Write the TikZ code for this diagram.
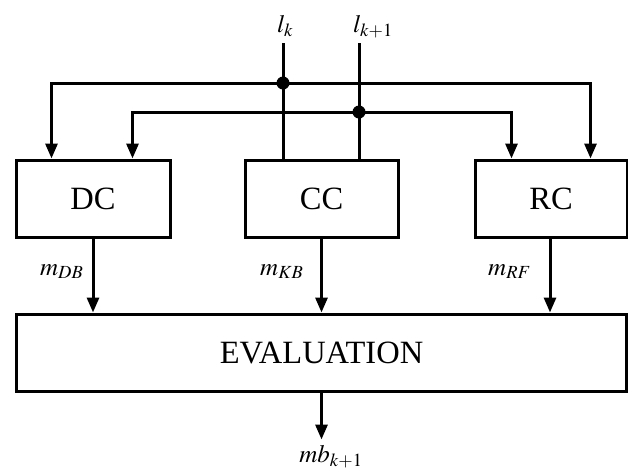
\documentclass[tikz,border=0pt]{standalone}
\usepackage{mathptmx}
\usepackage{fontspec}
\setmainfont{Liberation Serif}
\usetikzlibrary{arrows.meta}
\tikzset{
 blk/.style={draw,line width=3pt,minimum height=77pt,inner sep=0pt,
   font=\fontsize{32.5}{36}\selectfont},
 wire/.style={line width=3pt},
 arr/.style={wire,-{Triangle[length=15pt,width=12pt]}},
 lbl/.style={inner sep=0pt,font=\fontsize{25}{30}\selectfont},
}
\begin{document}
\begin{tikzpicture}[x=1pt,y=-1pt]
 \useasboundingbox (0,0) rectangle (628,472);
 % the boxes
 \node[blk,minimum width=154pt] (dc) at (93,198.5) {DC};
 \node[blk,minimum width=153pt] (cc) at (321.5,198.5) {CC};
 \node[blk,minimum width=152pt] (rc) at (551,198.5) {RC};
 \node[blk,minimum width=610pt] (ev) at (321.5,352.5) {EVALUATION};
 % inputs
 \node[lbl,anchor=base west] (lk) at (277,32) {$l_k$};
 \node[lbl,anchor=base west] (lkk) at (353,32) {$l_{k+1}$};
 \coordinate (lkin) at (283,43);
 \coordinate (lkkin) at (359,43);
 \coordinate (j1) at (283,83);
 \coordinate (j2) at (359,112);
 \draw[wire] (lkin) -- (lkin |- cc.north);
 \draw[wire] (lkkin) -- (lkkin |- cc.north);
 \draw[arr] (j1) -| ([xshift=37pt]dc.north west);
 \draw[arr] (j1) -| ([xshift=-38pt]rc.north east);
 \draw[arr] (j2) -| ([xshift=-39pt]dc.north east);
 \draw[arr] (j2) -| ([xshift=38pt]rc.north west);
 \fill (j1) circle (6.5pt);
 \fill (j2) circle (6.5pt);
 % outputs
 \draw[arr] (dc.south) -- (dc.south |- ev.north);
 \draw[arr] (cc.south) -- (cc.south |- ev.north);
 \draw[arr] ([xshift=-1pt]rc.south) -- ([xshift=-1pt]rc.south |- ev.north);
 \node[lbl,anchor=base west] (mdb) at (40,275) {$m_{DB}$};
 \node[lbl,anchor=base west] (mkb) at (260,275) {$m_{KB}$};
 \node[lbl,anchor=base west] (mrf) at (488,275) {$m_{RF}$};
 \node[lbl,anchor=base] (mb) at (331,462) {$mb_{k+1}$};
 \draw[arr] (ev.south) -- ++(0,47);
\end{tikzpicture}
\end{document}
